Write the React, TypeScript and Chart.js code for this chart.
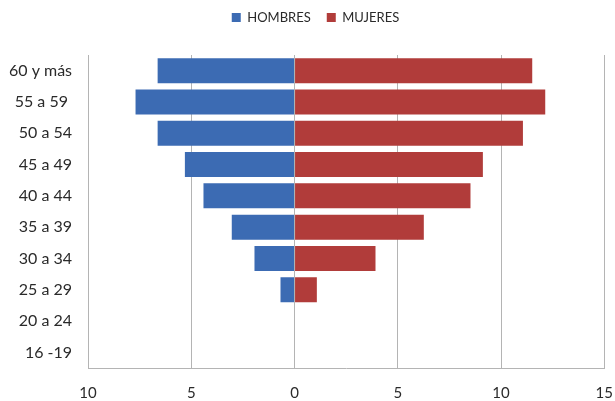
import React, { useEffect, useRef } from "react";
import { Chart, registerables } from "chart.js";

Chart.register(...registerables);

const categories = ["60 y más", "55 a 59 ", "50 a 54", "45 a 49", "40 a 44", "35 a 39", "30 a 34", "25 a 29", "20 a 24", "16 -19"];
const hombres = [6.63, 7.7, 6.63, 5.31, 4.41, 3.04, 1.94, 0.68, 0, 0];
const mujeres = [11.51, 12.14, 11.06, 9.12, 8.52, 6.26, 3.92, 1.08, 0, 0];
const seriesNames = ["HOMBRES", "MUJERES"];

const FONT = "Lato, 'Open Sans', sans-serif";
const TEXT = "#2a2a2a";

export default function App() {
  const ref = useRef<HTMLCanvasElement | null>(null);

  useEffect(() => {
    document.body.style.margin = "0";
    const canvas = ref.current;
    if (!canvas) return;
    const legendTweak = {
      id: "legendTweak",
      beforeInit(chart: any) {
        const orig = chart.legend.fit;
        chart.legend.fit = function () {
          orig.bind(this)();
          this.height += 21;
        };
      },
      afterLayout(chart: any) {
        if (chart.legend) {
          chart.legend.left += 11.5;
          chart.legend.right += 11.5;
        }
      },
    };
    const chart = new Chart(canvas, {
      type: "bar",
      data: {
        labels: categories,
        datasets: [
          {
            label: seriesNames[0],
            data: hombres.map((v) => -v),
            backgroundColor: "#3c6bb3",
            borderWidth: 0,
            barPercentage: 0.8,
            categoryPercentage: 1.0,
          },
          {
            label: seriesNames[1],
            data: mujeres,
            backgroundColor: "#b13c3a",
            borderWidth: 0,
            barPercentage: 0.8,
            categoryPercentage: 1.0,
          },
        ],
      },
      plugins: [legendTweak],
      options: {
        indexAxis: "y",
        animation: false,
        responsive: false,
        maintainAspectRatio: false,
        layout: { padding: { top: -5, right: 0, bottom: -17, left: -7 } },
        plugins: {
          legend: {
            position: "top",
            labels: {
              boxWidth: 9,
              boxHeight: 9,
              padding: 16,
              color: TEXT,
              font: { family: FONT, size: 13 },
            },
          },
          tooltip: { enabled: false },
        },
        scales: {
          x: {
            stacked: true,
            min: -10,
            max: 15,
            ticks: {
              stepSize: 5,
              color: TEXT,
              font: { family: FONT, size: 15, lineHeight: "46px" },
              padding: 2,
              callback: (v: any) => String(Math.abs(Number(v))),
            },
            grid: { color: "#b4b4b4", lineWidth: 1, drawTicks: false },
            border: { display: true, color: "#b4b4b4", width: 1 },
          },
          y: {
            stacked: true,
            ticks: {
              color: TEXT,
              font: { family: FONT, size: 16 },
              padding: 16,
            },
            grid: { display: false, drawTicks: false },
            border: { display: true, color: "#b4b4b4", width: 1 },
          },
        },
      },
    });
    return () => chart.destroy();
  }, []);

  return <canvas ref={ref} width={615} height={401} style={{ display: "block" }} />;
}
